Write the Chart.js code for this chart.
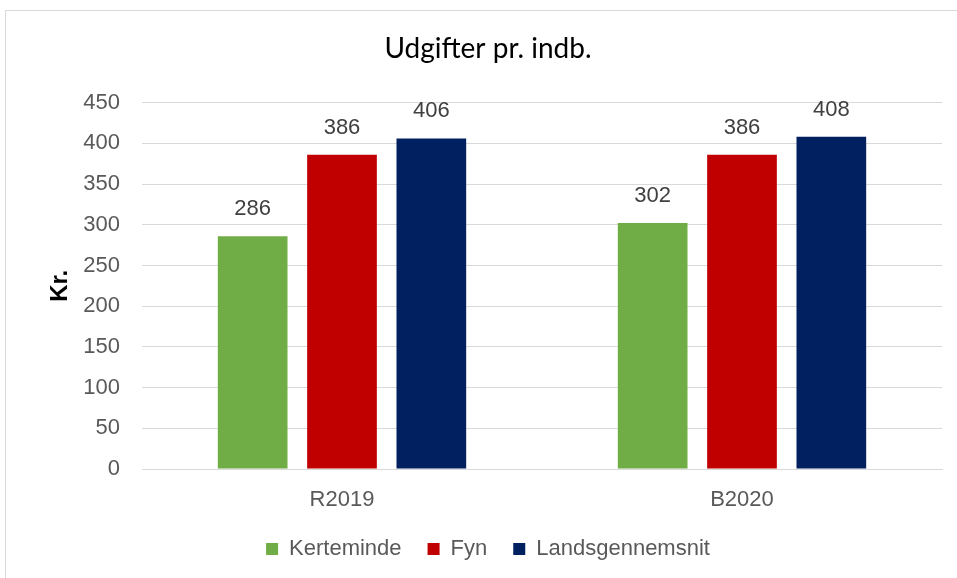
<!DOCTYPE html>
<html lang="da">
<head>
    <meta charset="UTF-8">
    <title>Udgifter pr. indb.</title>
    <style>
        body {
            margin: 0;
            padding: 0;
            background: #fff;
        }

        .frame {
            position: absolute;
            left: 5px;
            top: 10px;
            width: 960px;
            height: 580px;
            border: 1px solid #d9d9d9;
            box-sizing: border-box;
        }

        #wrap {
            position: absolute;
            left: 0;
            top: 0;
            width: 957px;
            height: 578px;
        }
    </style>
</head>
<body>
    <div class="frame"></div>
    <div id="wrap">
        <canvas id="chart"></canvas>
    </div>

    <script src="https://cdn.jsdelivr.net/npm/chart.js"></script>
    <script>
        // Data
        const categories = ['R2019', 'B2020'];
        const kerteminde = [286, 302];
        const fyn = [386, 386];
        const landsgennemsnit = [406, 408];
        const yTicks = [0, 50, 100, 150, 200, 250, 300, 350, 400, 450];

        const font = '"Liberation Sans", Arial, sans-serif';

        // draws the value above each bar
        const valueLabels = {
            id: 'valueLabels',
            afterDatasetsDraw(chart) {
                const ctx = chart.ctx;
                ctx.save();
                ctx.font = '22px ' + font;
                ctx.fillStyle = '#404040';
                ctx.textAlign = 'center';
                ctx.textBaseline = 'middle';
                chart.data.datasets.forEach((ds, i) => {
                    chart.getDatasetMeta(i).data.forEach((bar, j) => {
                        ctx.fillText(ds.data[j], bar.x, bar.y - 27);
                    });
                });
                ctx.restore();
            }
        };

        new Chart(document.getElementById('chart'), {
            type: 'bar',
            data: {
                labels: categories,
                datasets: [
                    { label: 'Kerteminde', data: kerteminde, backgroundColor: '#70AD47' },
                    { label: 'Fyn', data: fyn, backgroundColor: '#C00000' },
                    { label: 'Landsgennemsnit', data: landsgennemsnit, backgroundColor: '#002060' }
                ]
            },
            options: {
                responsive: true,
                maintainAspectRatio: false,
                animation: false,
                categoryPercentage: 0.67,
                barPercentage: 0.78,
                layout: {
                    padding: { left: 34, right: 15, top: 20, bottom: 8 }
                },
                plugins: {
                    title: {
                        display: true,
                        text: 'Udgifter pr. indb.',
                        color: '#000',
                        font: { family: 'Lato, "Open Sans", sans-serif', size: 28, weight: 'normal' },
                        padding: { top: 12, bottom: 37 }
                    },
                    legend: {
                        position: 'bottom',
                        labels: {
                            color: '#595959',
                            font: { family: font, size: 22 },
                            boxWidth: 12,
                            boxHeight: 12,
                            padding: 26
                        }
                    },
                    tooltip: { enabled: false }
                },
                scales: {
                    x: {
                        afterFit(axis) {
                            axis.height = 43;
                        },
                        grid: { display: false, drawTicks: false },
                        border: { color: '#d9d9d9' },
                        ticks: {
                            color: '#595959',
                            font: { family: font, size: 22 },
                            padding: 18
                        }
                    },
                    y: {
                        min: 0,
                        max: 450,
                        afterBuildTicks(axis) {
                            axis.ticks = yTicks.map(v => ({ value: v }));
                        },
                        afterFit(axis) {
                            axis.width = 108;
                        },
                        grid: { color: '#d9d9d9', drawTicks: false },
                        border: { display: false },
                        ticks: {
                            color: '#595959',
                            font: { family: font, size: 22 },
                            padding: 22
                        },
                        title: {
                            display: true,
                            text: 'Kr.',
                            color: '#000',
                            font: { family: font, size: 24, weight: 'bold' },
                            padding: 12
                        }
                    }
                }
            },
            plugins: [valueLabels]
        });
    </script>
</body>
</html>
